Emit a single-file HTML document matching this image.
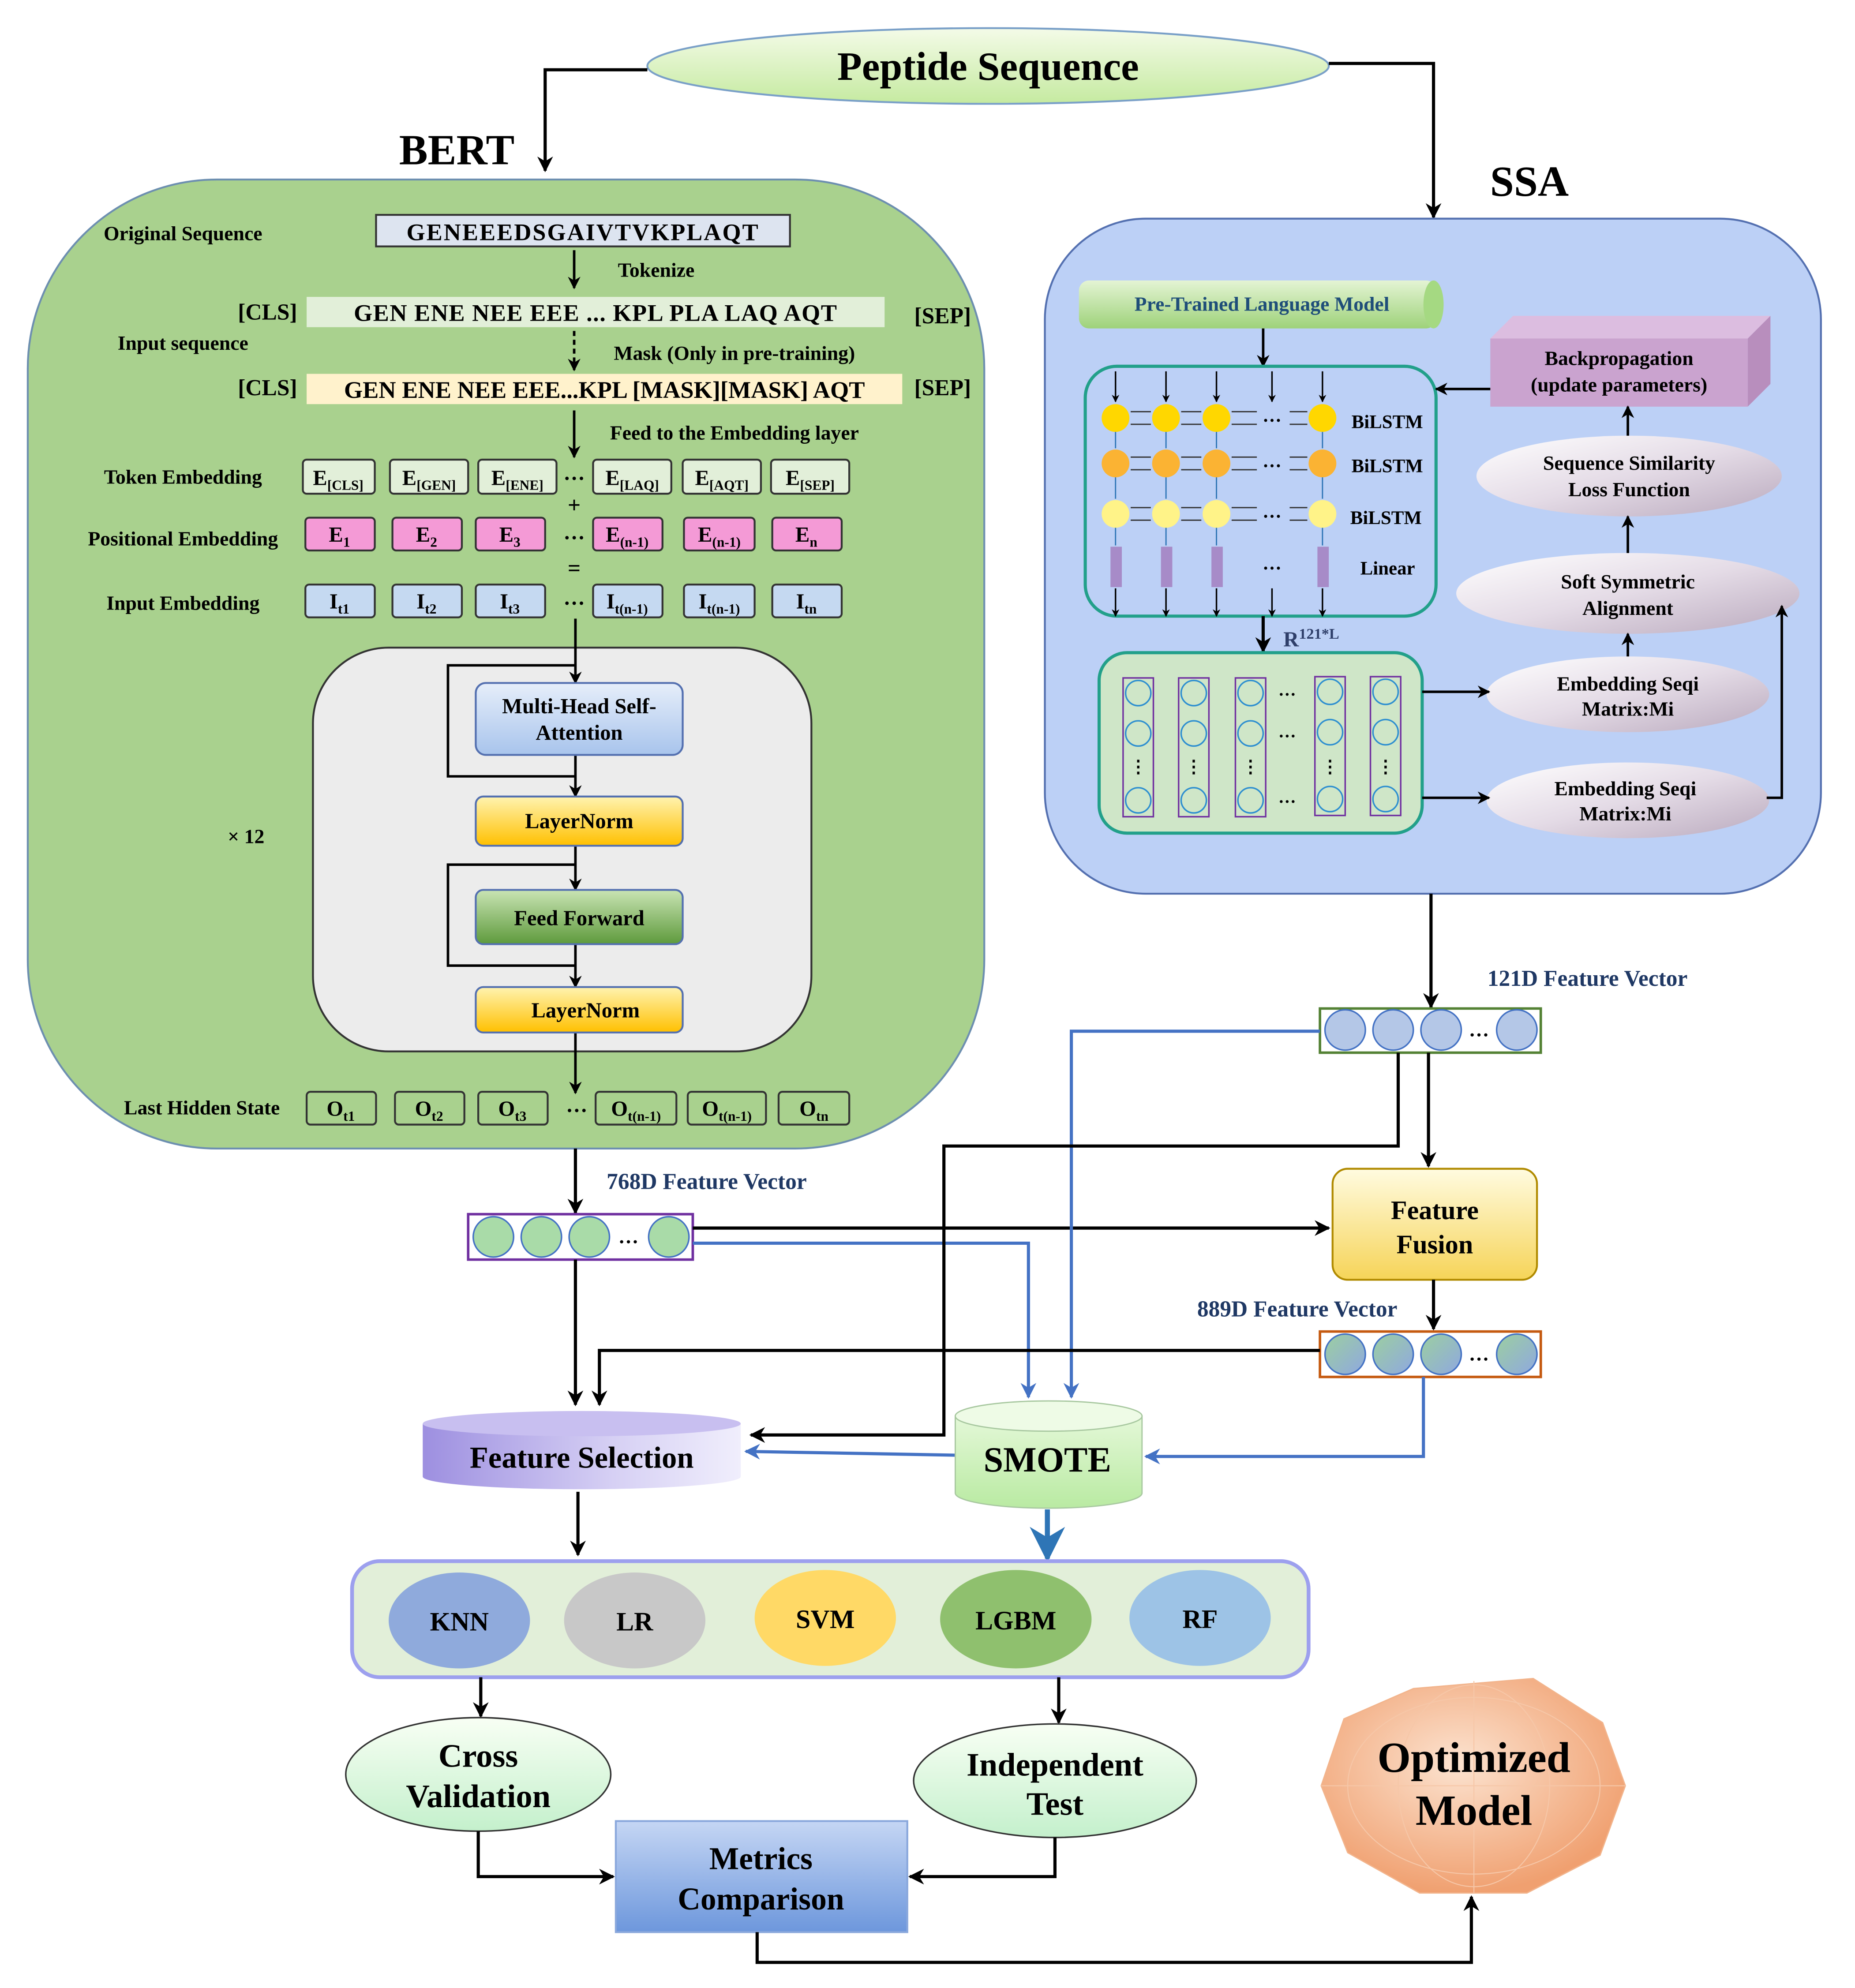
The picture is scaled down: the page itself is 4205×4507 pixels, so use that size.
<!DOCTYPE html>
<html><head><meta charset="utf-8"><style>
html,body{margin:0;padding:0;background:#fff;}
svg{display:block;}
text{font-family:"Liberation Serif",serif;font-weight:bold;}
</style></head><body>
<svg width="4205" height="4507" viewBox="0 0 1470 1575" xmlns="http://www.w3.org/2000/svg">
<defs>
<marker id="a" viewBox="0 0 10 10" refX="9" refY="5" markerWidth="5" markerHeight="5" orient="auto-start-reverse"><path d="M0,0 L10,5 L0,10 L3,5 z" fill="#000"/></marker>
<marker id="ab" viewBox="0 0 10 10" refX="9" refY="5" markerWidth="5" markerHeight="5" orient="auto-start-reverse"><path d="M0,0 L10,5 L0,10 L3,5 z" fill="#4472c4"/></marker>
<marker id="as" viewBox="0 0 10 10" refX="9" refY="5" markerWidth="7" markerHeight="7" orient="auto"><path d="M0,0 L10,5 L0,10 L3,5 z" fill="#2e75b6"/></marker>
<linearGradient id="gPep" x1="0" y1="0" x2="0" y2="1"><stop offset="0" stop-color="#f4fbe8"/><stop offset="1" stop-color="#c5eaa0"/></linearGradient>
<linearGradient id="gBlue" x1="0" y1="0" x2="0" y2="1"><stop offset="0" stop-color="#e6eefa"/><stop offset="1" stop-color="#a8c4ec"/></linearGradient>
<linearGradient id="gYel" x1="0" y1="0" x2="0" y2="1"><stop offset="0" stop-color="#fff3b0"/><stop offset="1" stop-color="#ffc000"/></linearGradient>
<linearGradient id="gGrn" x1="0" y1="0" x2="0" y2="1"><stop offset="0" stop-color="#c9e4b4"/><stop offset="1" stop-color="#5e9a3c"/></linearGradient>
<linearGradient id="gFus" x1="0" y1="0" x2="0" y2="1"><stop offset="0" stop-color="#fffbe0"/><stop offset="1" stop-color="#f6d458"/></linearGradient>
<linearGradient id="gEll" x1="0" y1="0" x2="1" y2="1"><stop offset="0" stop-color="#ffffff"/><stop offset="0.5" stop-color="#e4dbe6"/><stop offset="1" stop-color="#b9a9bd"/></linearGradient>
<linearGradient id="gPTL" x1="0" y1="0" x2="0" y2="1"><stop offset="0" stop-color="#e4f4d4"/><stop offset="1" stop-color="#9ed27a"/></linearGradient>
<linearGradient id="gFS" x1="0" y1="0" x2="1" y2="0"><stop offset="0" stop-color="#9d8fe0"/><stop offset="0.6" stop-color="#d6d0f4"/><stop offset="1" stop-color="#f0eefc"/></linearGradient>
<linearGradient id="gSM" x1="0" y1="0" x2="0" y2="1"><stop offset="0" stop-color="#e4f8d8"/><stop offset="1" stop-color="#b9eaa2"/></linearGradient>
<linearGradient id="gCV" x1="0" y1="0" x2="0" y2="1"><stop offset="0" stop-color="#f8fff4"/><stop offset="1" stop-color="#c4f0cc"/></linearGradient>
<linearGradient id="gMC" x1="0" y1="0" x2="0" y2="1"><stop offset="0" stop-color="#c5d6f4"/><stop offset="1" stop-color="#6d97dc"/></linearGradient>
<radialGradient id="gOpt" cx="0.45" cy="0.4" r="0.6"><stop offset="0" stop-color="#fce3d0"/><stop offset="1" stop-color="#f0a070"/></radialGradient>
<linearGradient id="gMix" x1="0" y1="0" x2="1" y2="1"><stop offset="0" stop-color="#9ccfa0"/><stop offset="1" stop-color="#8fa8e0"/></linearGradient>
</defs>

<!-- Peptide sequence -->
<ellipse cx="783" cy="52" rx="270" ry="30" fill="url(#gPep)" stroke="#7aa0c8" stroke-width="1.5"/>
<text x="783" y="63" font-size="32" text-anchor="middle">Peptide Sequence</text>
<polyline points="513,55 432,55 432,135" fill="none" stroke="#000" stroke-width="2.5" marker-end="url(#a)"/>
<polyline points="1053,50 1136,50 1136,172" fill="none" stroke="#000" stroke-width="2.5" marker-end="url(#a)"/>
<text x="362" y="130" font-size="34" text-anchor="middle">BERT</text>
<text x="1212" y="155" font-size="34" text-anchor="middle">SSA</text>

<!-- BERT box -->
<rect x="22" y="142" width="758" height="768" rx="150" fill="#a9d18e" stroke="#6d8fb0" stroke-width="1.5"/>
<g font-size="16">
<text x="145" y="190" text-anchor="middle">Original Sequence</text>
<text x="145" y="277" text-anchor="middle">Input sequence</text>
<text x="145" y="383" text-anchor="middle">Token Embedding</text>
<text x="145" y="432" text-anchor="middle">Positional Embedding</text>
<text x="145" y="483" text-anchor="middle">Input Embedding</text>
<text x="160" y="883" text-anchor="middle">Last Hidden State</text>
<text x="195" y="668" text-anchor="middle">× 12</text>
<text x="520" y="219" text-anchor="middle">Tokenize</text>
<text x="582" y="285" text-anchor="middle">Mask (Only in pre-training)</text>
<text x="582" y="348" text-anchor="middle">Feed to the Embedding layer</text>
</g>
<rect x="298" y="170" width="328" height="25" fill="#dde4f0" stroke="#333" stroke-width="1.5"/>
<text x="462" y="190" font-size="19" text-anchor="middle" letter-spacing="1">GENEEEDSGAIVTVKPLAQT</text>
<line x1="455" y1="198" x2="455" y2="228" stroke="#000" stroke-width="2" marker-end="url(#a)"/>
<text x="212" y="253" font-size="18" text-anchor="middle">[CLS]</text>
<rect x="243" y="235" width="458" height="24" fill="#e2efd9"/>
<text x="472" y="254" font-size="19" text-anchor="middle" letter-spacing="0.5">GEN ENE NEE EEE ... KPL PLA  LAQ AQT</text>
<text x="747" y="256" font-size="18" text-anchor="middle">[SEP]</text>
<line x1="455" y1="262" x2="455" y2="293" stroke="#000" stroke-width="2" stroke-dasharray="4,3" marker-end="url(#a)"/>
<text x="212" y="313" font-size="18" text-anchor="middle">[CLS]</text>
<rect x="243" y="296" width="472" height="24" fill="#fff2cc"/>
<text x="479" y="315" font-size="19" text-anchor="middle">GEN ENE NEE EEE...KPL [MASK][MASK] AQT</text>
<text x="747" y="313" font-size="18" text-anchor="middle">[SEP]</text>
<line x1="455" y1="325" x2="455" y2="362" stroke="#000" stroke-width="2" marker-end="url(#a)"/>

<!-- embeddings rows -->
<g stroke="#333" stroke-width="1.5">
<rect x="240" y="364" width="57" height="27" rx="3" fill="#e2efd9"/>
<rect x="309" y="364" width="62" height="27" rx="3" fill="#e2efd9"/>
<rect x="379" y="364" width="62" height="27" rx="3" fill="#e2efd9"/>
<rect x="470" y="364" width="62" height="27" rx="3" fill="#e2efd9"/>
<rect x="541" y="364" width="62" height="27" rx="3" fill="#e2efd9"/>
<rect x="611" y="364" width="62" height="27" rx="3" fill="#e2efd9"/>
<rect x="242" y="410" width="55" height="26" rx="3" fill="#f49ad6"/>
<rect x="311" y="410" width="55" height="26" rx="3" fill="#f49ad6"/>
<rect x="377" y="410" width="55" height="26" rx="3" fill="#f49ad6"/>
<rect x="470" y="410" width="55" height="26" rx="3" fill="#f49ad6"/>
<rect x="542" y="410" width="56" height="26" rx="3" fill="#f49ad6"/>
<rect x="612" y="410" width="55" height="26" rx="3" fill="#f49ad6"/>
<rect x="242" y="463" width="55" height="26" rx="3" fill="#c5d9f1"/>
<rect x="311" y="463" width="55" height="26" rx="3" fill="#c5d9f1"/>
<rect x="377" y="463" width="55" height="26" rx="3" fill="#c5d9f1"/>
<rect x="470" y="463" width="55" height="26" rx="3" fill="#c5d9f1"/>
<rect x="542" y="463" width="56" height="26" rx="3" fill="#c5d9f1"/>
<rect x="612" y="463" width="55" height="26" rx="3" fill="#c5d9f1"/>
<rect x="243" y="865" width="55" height="26" rx="3" fill="none"/>
<rect x="313" y="865" width="55" height="26" rx="3" fill="none"/>
<rect x="379" y="865" width="55" height="26" rx="3" fill="none"/>
<rect x="472" y="865" width="64" height="26" rx="3" fill="none"/>
<rect x="545" y="865" width="62" height="26" rx="3" fill="none"/>
<rect x="617" y="865" width="56" height="26" rx="3" fill="none"/>
</g>
<g font-size="17" text-anchor="middle">
<text x="268" y="384">E<tspan font-size="11" dy="4">[CLS]</tspan></text>
<text x="340" y="384">E<tspan font-size="11" dy="4">[GEN]</tspan></text>
<text x="410" y="384">E<tspan font-size="11" dy="4">[ENE]</tspan></text>
<text x="501" y="384">E<tspan font-size="11" dy="4">[LAQ]</tspan></text>
<text x="572" y="384">E<tspan font-size="11" dy="4">[AQT]</tspan></text>
<text x="642" y="384">E<tspan font-size="11" dy="4">[SEP]</tspan></text>
<text x="269" y="429">E<tspan font-size="11" dy="4">1</tspan></text>
<text x="338" y="429">E<tspan font-size="11" dy="4">2</tspan></text>
<text x="404" y="429">E<tspan font-size="11" dy="4">3</tspan></text>
<text x="497" y="429">E<tspan font-size="11" dy="4">(n-1)</tspan></text>
<text x="570" y="429">E<tspan font-size="11" dy="4">(n-1)</tspan></text>
<text x="639" y="429">E<tspan font-size="11" dy="4">n</tspan></text>
<text x="269" y="482">I<tspan font-size="11" dy="4">t1</tspan></text>
<text x="338" y="482">I<tspan font-size="11" dy="4">t2</tspan></text>
<text x="404" y="482">I<tspan font-size="11" dy="4">t3</tspan></text>
<text x="497" y="482">I<tspan font-size="11" dy="4">t(n-1)</tspan></text>
<text x="570" y="482">I<tspan font-size="11" dy="4">t(n-1)</tspan></text>
<text x="639" y="482">I<tspan font-size="11" dy="4">tn</tspan></text>
<text x="270" y="884">O<tspan font-size="11" dy="4">t1</tspan></text>
<text x="340" y="884">O<tspan font-size="11" dy="4">t2</tspan></text>
<text x="406" y="884">O<tspan font-size="11" dy="4">t3</tspan></text>
<text x="504" y="884">O<tspan font-size="11" dy="4">t(n-1)</tspan></text>
<text x="576" y="884">O<tspan font-size="11" dy="4">t(n-1)</tspan></text>
<text x="645" y="884">O<tspan font-size="11" dy="4">tn</tspan></text>
<text x="455" y="380">…</text>
<text x="455" y="406" font-size="18">+</text>
<text x="455" y="427">…</text>
<text x="455" y="456" font-size="18">=</text>
<text x="455" y="479">…</text>
<text x="457" y="881">…</text>
</g>

<!-- transformer -->
<rect x="248" y="513" width="395" height="320" rx="60" fill="#ececec" stroke="#333" stroke-width="1.5"/>
<line x1="456" y1="490" x2="456" y2="541" stroke="#000" stroke-width="2" marker-end="url(#a)"/>
<polyline points="456,527 355,527 355,615 456,615" fill="none" stroke="#000" stroke-width="2"/>
<line x1="456" y1="598" x2="456" y2="631" stroke="#000" stroke-width="2" marker-end="url(#a)"/>
<line x1="456" y1="670" x2="456" y2="705" stroke="#000" stroke-width="2" marker-end="url(#a)"/>
<polyline points="456,685 355,685 355,765 456,765" fill="none" stroke="#000" stroke-width="2"/>
<line x1="456" y1="748" x2="456" y2="782" stroke="#000" stroke-width="2" marker-end="url(#a)"/>
<line x1="456" y1="818" x2="456" y2="866" stroke="#000" stroke-width="2" marker-end="url(#a)"/>
<rect x="377" y="541" width="164" height="57" rx="8" fill="url(#gBlue)" stroke="#5470b0" stroke-width="1.5"/>
<text x="459" y="565" font-size="17" text-anchor="middle">Multi-Head Self-</text>
<text x="459" y="586" font-size="17" text-anchor="middle">Attention</text>
<rect x="377" y="631" width="164" height="39" rx="6" fill="url(#gYel)" stroke="#5470b0" stroke-width="1.5"/>
<text x="459" y="656" font-size="17" text-anchor="middle">LayerNorm</text>
<rect x="377" y="705" width="164" height="43" rx="6" fill="url(#gGrn)" stroke="#5470b0" stroke-width="1.5"/>
<text x="459" y="733" font-size="17" text-anchor="middle">Feed Forward</text>
<rect x="377" y="782" width="164" height="36" rx="6" fill="url(#gYel)" stroke="#5470b0" stroke-width="1.5"/>
<text x="464" y="806" font-size="17" text-anchor="middle">LayerNorm</text>

<!-- SSA box -->
<rect x="828" y="173" width="615" height="535" rx="80" fill="#bcd0f6" stroke="#5470b0" stroke-width="1.5"/>
<rect x="855" y="222" width="283" height="38" rx="8" fill="url(#gPTL)"/>
<ellipse cx="1136" cy="241" rx="8" ry="19" fill="#a5d982"/>
<text x="1000" y="246" font-size="16" fill="#1f4e79" text-anchor="middle">Pre-Trained Language Model</text>
<line x1="1001" y1="260" x2="1001" y2="290" stroke="#000" stroke-width="2" marker-end="url(#a)"/>
<rect x="860" y="290" width="278" height="198" rx="25" fill="none" stroke="#22a08a" stroke-width="2.5"/>
<g stroke="#000" stroke-width="1.2">
<line x1="884" y1="294" x2="884" y2="318" marker-end="url(#a)"/><line x1="924" y1="294" x2="924" y2="318" marker-end="url(#a)"/><line x1="964" y1="294" x2="964" y2="318" marker-end="url(#a)"/><line x1="1008" y1="294" x2="1008" y2="318" marker-end="url(#a)"/><line x1="1048" y1="294" x2="1048" y2="318" marker-end="url(#a)"/>
<line x1="884" y1="466" x2="884" y2="488" marker-end="url(#a)"/><line x1="924" y1="466" x2="924" y2="488" marker-end="url(#a)"/><line x1="964" y1="466" x2="964" y2="488" marker-end="url(#a)"/><line x1="1008" y1="466" x2="1008" y2="488" marker-end="url(#a)"/><line x1="1048" y1="466" x2="1048" y2="488" marker-end="url(#a)"/>
</g>
<g>
<circle cx="884" cy="331" r="11" fill="#ffd700"/><circle cx="924" cy="331" r="11" fill="#ffd700"/><circle cx="964" cy="331" r="11" fill="#ffd700"/><circle cx="1048" cy="331" r="11" fill="#ffd700"/>
<circle cx="884" cy="367" r="11" fill="#fbb333"/><circle cx="924" cy="367" r="11" fill="#fbb333"/><circle cx="964" cy="367" r="11" fill="#fbb333"/><circle cx="1048" cy="367" r="11" fill="#fbb333"/>
<circle cx="884" cy="407" r="11" fill="#fff388"/><circle cx="924" cy="407" r="11" fill="#fff388"/><circle cx="964" cy="407" r="11" fill="#fff388"/><circle cx="1048" cy="407" r="11" fill="#fff388"/>
<rect x="880" y="433" width="9" height="32" fill="#a78bc8"/><rect x="920" y="433" width="9" height="32" fill="#a78bc8"/><rect x="960" y="433" width="9" height="32" fill="#a78bc8"/><rect x="1044" y="433" width="9" height="32" fill="#a78bc8"/>
</g>
<g stroke="#2e75b6" stroke-width="1">
<line x1="884" y1="342" x2="884" y2="355"/><line x1="924" y1="342" x2="924" y2="355"/><line x1="964" y1="342" x2="964" y2="355"/><line x1="1048" y1="342" x2="1048" y2="355"/>
<line x1="884" y1="378" x2="884" y2="395"/><line x1="924" y1="378" x2="924" y2="395"/><line x1="964" y1="378" x2="964" y2="395"/><line x1="1048" y1="378" x2="1048" y2="395"/>
<line x1="884" y1="418" x2="884" y2="432"/><line x1="924" y1="418" x2="924" y2="432"/><line x1="964" y1="418" x2="964" y2="432"/><line x1="1048" y1="418" x2="1048" y2="432"/>
</g>
<g stroke="#333" stroke-width="1">
<line x1="896" y1="326" x2="912" y2="326"/><line x1="936" y1="326" x2="952" y2="326"/><line x1="976" y1="326" x2="996" y2="326"/><line x1="1022" y1="326" x2="1036" y2="326"/>
<line x1="896" y1="336" x2="912" y2="336"/><line x1="936" y1="336" x2="952" y2="336"/><line x1="976" y1="336" x2="996" y2="336"/><line x1="1022" y1="336" x2="1036" y2="336"/>
<line x1="896" y1="362" x2="912" y2="362"/><line x1="936" y1="362" x2="952" y2="362"/><line x1="976" y1="362" x2="996" y2="362"/><line x1="1022" y1="362" x2="1036" y2="362"/>
<line x1="896" y1="372" x2="912" y2="372"/><line x1="936" y1="372" x2="952" y2="372"/><line x1="976" y1="372" x2="996" y2="372"/><line x1="1022" y1="372" x2="1036" y2="372"/>
<line x1="896" y1="402" x2="912" y2="402"/><line x1="936" y1="402" x2="952" y2="402"/><line x1="976" y1="402" x2="996" y2="402"/><line x1="1022" y1="402" x2="1036" y2="402"/>
<line x1="896" y1="412" x2="912" y2="412"/><line x1="936" y1="412" x2="952" y2="412"/><line x1="976" y1="412" x2="996" y2="412"/><line x1="1022" y1="412" x2="1036" y2="412"/>
</g>
<g font-size="15" text-anchor="middle"><text x="1008" y="334">…</text><text x="1008" y="370">…</text><text x="1008" y="410">…</text><text x="1008" y="451">…</text></g>
<g font-size="15"><text x="1071" y="339">BiLSTM</text><text x="1071" y="374">BiLSTM</text><text x="1070" y="415">BiLSTM</text><text x="1078" y="455">Linear</text></g>
<line x1="1001" y1="488" x2="1001" y2="516" stroke="#000" stroke-width="2.5" marker-end="url(#a)"/>
<text x="1017" y="512" font-size="17" fill="#2f3f6a">R<tspan font-size="12" dy="-6">121*L</tspan></text>
<rect x="871" y="517" width="256" height="143" rx="22" fill="#cfe6c8" stroke="#22a08a" stroke-width="2.5"/>
<g fill="none">
<g stroke="#7030a0" stroke-width="1.2">
<rect x="890" y="537" width="24" height="110"/><rect x="934" y="537" width="24" height="110"/><rect x="979" y="537" width="24" height="110"/><rect x="1042" y="536" width="24" height="110"/><rect x="1086" y="536" width="24" height="110"/>
</g>
<g stroke="#2e8fd0" stroke-width="1.2">
<circle cx="902" cy="549" r="10"/><circle cx="902" cy="581" r="10"/><circle cx="902" cy="634" r="10"/>
<circle cx="946" cy="549" r="10"/><circle cx="946" cy="581" r="10"/><circle cx="946" cy="634" r="10"/>
<circle cx="991" cy="549" r="10"/><circle cx="991" cy="581" r="10"/><circle cx="991" cy="634" r="10"/>
<circle cx="1054" cy="548" r="10"/><circle cx="1054" cy="580" r="10"/><circle cx="1054" cy="633" r="10"/>
<circle cx="1098" cy="548" r="10"/><circle cx="1098" cy="580" r="10"/><circle cx="1098" cy="633" r="10"/>
</g></g>
<g font-size="14" text-anchor="middle"><text x="1020" y="551">…</text><text x="1020" y="584">…</text><text x="1020" y="636">…</text>
<text x="902" y="612">⋮</text><text x="946" y="612">⋮</text><text x="991" y="612">⋮</text><text x="1054" y="612">⋮</text><text x="1098" y="612">⋮</text></g>

<!-- backprop -->
<polygon points="1181,268 1199,250 1403,250 1385,268" fill="#dcbde0"/>
<polygon points="1385,268 1403,250 1403,304 1385,322" fill="#b88ebd"/>
<rect x="1181" y="268" width="204" height="54" fill="#caa3cf"/>
<text x="1283" y="289" font-size="16" text-anchor="middle">Backpropagation</text>
<text x="1283" y="310" font-size="16" text-anchor="middle">(update parameters)</text>
<line x1="1181" y1="308" x2="1138" y2="308" stroke="#000" stroke-width="2" marker-end="url(#a)"/>
<ellipse cx="1291" cy="377" rx="121" ry="32" fill="url(#gEll)"/>
<text x="1291" y="372" font-size="16" text-anchor="middle">Sequence Similarity</text>
<text x="1291" y="393" font-size="16" text-anchor="middle">Loss Function</text>
<ellipse cx="1290" cy="470" rx="136" ry="32" fill="url(#gEll)"/>
<text x="1290" y="466" font-size="16" text-anchor="middle">Soft Symmetric</text>
<text x="1290" y="487" font-size="16" text-anchor="middle">Alignment</text>
<ellipse cx="1290" cy="550" rx="112" ry="30" fill="url(#gEll)"/>
<text x="1290" y="547" font-size="16" text-anchor="middle">Embedding Seqi</text>
<text x="1290" y="567" font-size="16" text-anchor="middle">Matrix:Mi</text>
<ellipse cx="1290" cy="634" rx="112" ry="30" fill="url(#gEll)"/>
<text x="1288" y="630" font-size="16" text-anchor="middle">Embedding Seqi</text>
<text x="1288" y="650" font-size="16" text-anchor="middle">Matrix:Mi</text>
<g stroke="#000" stroke-width="2" fill="none">
<line x1="1290" y1="345" x2="1290" y2="322" marker-end="url(#a)"/>
<line x1="1290" y1="438" x2="1290" y2="409" marker-end="url(#a)"/>
<line x1="1290" y1="520" x2="1290" y2="502" marker-end="url(#a)"/>
<line x1="1127" y1="548" x2="1180" y2="548" marker-end="url(#a)"/>
<line x1="1127" y1="632" x2="1180" y2="632" marker-end="url(#a)"/>
<polyline points="1400,632 1412,632 1412,480" marker-end="url(#a)"/>
</g>

<!-- 121D -->
<line x1="1134" y1="708" x2="1134" y2="798" stroke="#000" stroke-width="2.5" marker-end="url(#a)"/>
<text x="1258" y="781" font-size="18" fill="#1f3864" text-anchor="middle">121D Feature Vector</text>
<rect x="1046" y="799" width="175" height="35" fill="#fff" stroke="#548235" stroke-width="2"/>
<g fill="#b4c7e7" stroke="#4472c4" stroke-width="1.2"><circle cx="1066" cy="816" r="16"/><circle cx="1104" cy="816" r="16"/><circle cx="1142" cy="816" r="16"/><circle cx="1202" cy="816" r="16"/></g>
<text x="1172" y="821" font-size="16" text-anchor="middle">…</text>

<!-- 768D -->
<line x1="456" y1="910" x2="456" y2="961" stroke="#000" stroke-width="2.5" marker-end="url(#a)"/>
<text x="560" y="942" font-size="18" fill="#1f3864" text-anchor="middle">768D Feature Vector</text>
<rect x="371" y="962" width="178" height="36" fill="#fff" stroke="#7030a0" stroke-width="2"/>
<g fill="#a9dba8" stroke="#4472c4" stroke-width="1.2"><circle cx="391" cy="980" r="16"/><circle cx="429" cy="980" r="16"/><circle cx="467" cy="980" r="16"/><circle cx="530" cy="980" r="16"/></g>
<text x="498" y="985" font-size="16" text-anchor="middle">…</text>

<!-- fusion -->
<rect x="1056" y="926" width="162" height="88" rx="12" fill="url(#gFus)" stroke="#b08a00" stroke-width="1.5"/>
<text x="1137" y="966" font-size="21" text-anchor="middle">Feature</text>
<text x="1137" y="993" font-size="21" text-anchor="middle">Fusion</text>
<line x1="1136" y1="1014" x2="1136" y2="1053" stroke="#000" stroke-width="2.5" marker-end="url(#a)"/>
<text x="1028" y="1043" font-size="18" fill="#1f3864" text-anchor="middle">889D Feature Vector</text>
<rect x="1046" y="1055" width="175" height="36" fill="#fff" stroke="#c55a11" stroke-width="2"/>
<g fill="url(#gMix)" stroke="#4472c4" stroke-width="1.2"><circle cx="1066" cy="1073" r="16"/><circle cx="1104" cy="1073" r="16"/><circle cx="1142" cy="1073" r="16"/><circle cx="1202" cy="1073" r="16"/></g>
<text x="1172" y="1078" font-size="16" text-anchor="middle">…</text>

<!-- connectors -->
<g fill="none" stroke-width="2.5">
<line x1="549" y1="973" x2="1053" y2="973" stroke="#000" marker-end="url(#a)"/>
<polyline points="549,985 815,985 815,1107" stroke="#4472c4" marker-end="url(#ab)"/>
<polyline points="1046,817 849,817 849,1107" stroke="#4472c4" marker-end="url(#ab)"/>
<polyline points="1108,834 1108,908 748,908 748,1137 595,1137" stroke="#000" marker-end="url(#a)"/>
<line x1="1132" y1="834" x2="1132" y2="924" stroke="#000" marker-end="url(#a)"/>
<line x1="456" y1="998" x2="456" y2="1113" stroke="#000" marker-end="url(#a)"/>
<polyline points="1046,1070 475,1070 475,1113" stroke="#000" marker-end="url(#a)"/>
<polyline points="1128,1091 1128,1154 908,1154" stroke="#4472c4" marker-end="url(#ab)"/>
<line x1="757" y1="1153" x2="591" y2="1150" stroke="#4472c4" marker-end="url(#ab)"/>
<line x1="458" y1="1182" x2="458" y2="1232" stroke="#000" marker-end="url(#a)"/>
<line x1="830" y1="1196" x2="830" y2="1235" stroke="#2e75b6" stroke-width="4" marker-end="url(#as)"/>
</g>

<!-- Feature selection cylinder -->
<path d="M335,1128 L335,1170 A126,10 0 0 0 587,1170 L587,1128 Z" fill="url(#gFS)"/>
<ellipse cx="461" cy="1128" rx="126" ry="10" fill="#c8bff0"/>
<text x="461" y="1163" font-size="24" text-anchor="middle">Feature Selection</text>
<!-- SMOTE cylinder -->
<path d="M757,1122 L757,1183 A74,12 0 0 0 905,1183 L905,1122 Z" fill="url(#gSM)" stroke="#a8c8a0" stroke-width="1"/>
<ellipse cx="831" cy="1122" rx="74" ry="12" fill="#eefbe6" stroke="#a8c8a0" stroke-width="1"/>
<text x="830" y="1166" font-size="28" text-anchor="middle">SMOTE</text>

<!-- classifiers -->
<rect x="279" y="1237" width="758" height="92" rx="22" fill="#e2efd9" stroke="#9da0ee" stroke-width="3"/>
<ellipse cx="364" cy="1284" rx="56" ry="38" fill="#8faadc"/>
<ellipse cx="503" cy="1284" rx="56" ry="38" fill="#c8c8c8"/>
<ellipse cx="654" cy="1282" rx="56" ry="38" fill="#ffd966"/>
<ellipse cx="805" cy="1283" rx="60" ry="39" fill="#8fc06e"/>
<ellipse cx="951" cy="1282" rx="56" ry="38" fill="#9dc3e6"/>
<g font-size="21" text-anchor="middle"><text x="364" y="1292">KNN</text><text x="503" y="1292">LR</text><text x="654" y="1290">SVM</text><text x="805" y="1291">LGBM</text><text x="951" y="1290">RF</text></g>

<line x1="381" y1="1329" x2="381" y2="1360" stroke="#000" stroke-width="2.5" marker-end="url(#a)"/>
<line x1="839" y1="1329" x2="839" y2="1365" stroke="#000" stroke-width="2.5" marker-end="url(#a)"/>
<ellipse cx="379" cy="1406" rx="105" ry="45" fill="url(#gCV)" stroke="#333" stroke-width="1.2"/>
<text x="379" y="1400" font-size="26" text-anchor="middle">Cross</text>
<text x="379" y="1432" font-size="26" text-anchor="middle">Validation</text>
<ellipse cx="836" cy="1411" rx="112" ry="45" fill="url(#gCV)" stroke="#333" stroke-width="1.2"/>
<text x="836" y="1407" font-size="26" text-anchor="middle">Independent</text>
<text x="836" y="1438" font-size="26" text-anchor="middle">Test</text>
<rect x="488" y="1443" width="231" height="88" fill="url(#gMC)" stroke="#8aa8dc" stroke-width="1.5"/>
<text x="603" y="1481" font-size="25" text-anchor="middle">Metrics</text>
<text x="603" y="1513" font-size="25" text-anchor="middle">Comparison</text>
<g fill="none" stroke="#000" stroke-width="2.5">
<polyline points="379,1451 379,1487 486,1487" marker-end="url(#a)"/>
<polyline points="836,1456 836,1487 721,1487" marker-end="url(#a)"/>
<polyline points="600,1531 600,1555 1166,1555 1166,1503" marker-end="url(#a)"/>
</g>

<!-- optimized model -->
<polygon points="1120,1338 1215,1330 1270,1365 1288,1415 1268,1470 1210,1500 1125,1500 1068,1468 1047,1415 1065,1362" fill="url(#gOpt)" stroke="#f2b48c" stroke-width="1"/>
<g stroke="#f6c7a8" stroke-width="0.8" fill="none">
<ellipse cx="1168" cy="1415" rx="100" ry="70"/><ellipse cx="1168" cy="1415" rx="60" ry="80"/><line x1="1047" y1="1415" x2="1288" y2="1415"/><line x1="1168" y1="1332" x2="1168" y2="1500"/>
</g>
<text x="1168" y="1404" font-size="34" text-anchor="middle">Optimized</text>
<text x="1168" y="1446" font-size="34" text-anchor="middle">Model</text>
</svg>
</body></html>
